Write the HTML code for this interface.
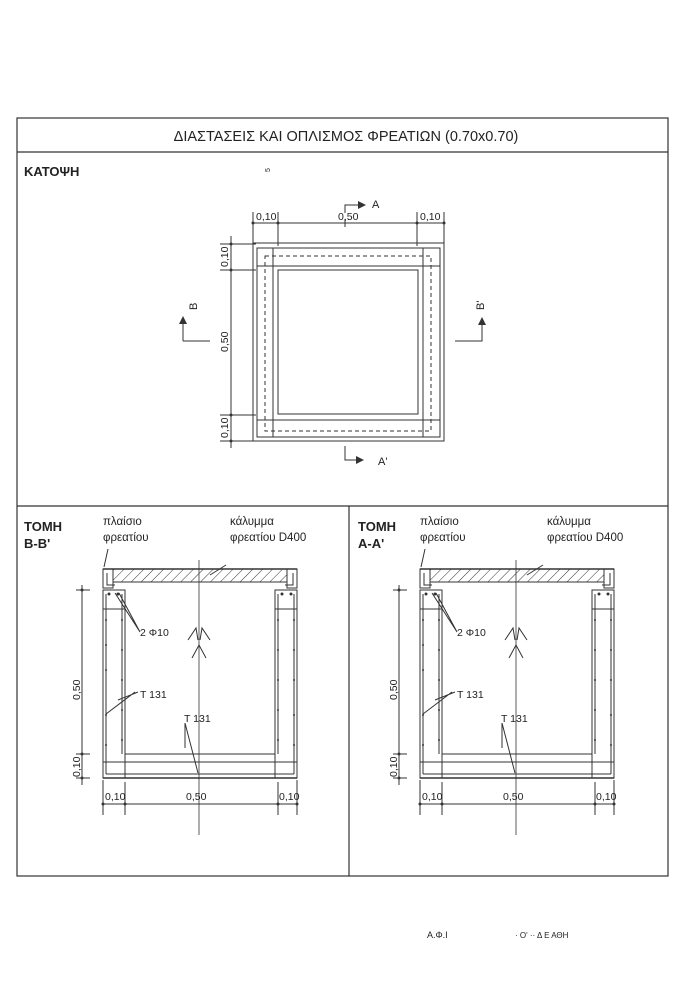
<!DOCTYPE html>
<html><head><meta charset="utf-8"><style>
html,body{margin:0;padding:0;background:#fff}
svg{display:block}
text{font-family:"Liberation Sans","DejaVu Sans",sans-serif;fill:#222}
</style></head><body>
<svg width="700" height="990" viewBox="0 0 700 990" xmlns="http://www.w3.org/2000/svg">
<defs>
<pattern id="h" width="7" height="7" patternUnits="userSpaceOnUse" patternTransform="rotate(45)">
<line x1="0" y1="0" x2="0" y2="7" stroke="#333" stroke-width="1"/></pattern>
<g id="sec" stroke="#333" fill="none" stroke-width="1">
 <!-- frame pieces -->
 <rect x="103" y="569" width="10" height="19"/>
 <rect x="287" y="569" width="10" height="19"/>
 <path d="M107 573 v12 h8 M293 573 v12 h-8"/>
 <!-- cover -->
 <rect x="113" y="569" width="174" height="13" fill="url(#h)"/>
 <line x1="103" y1="569" x2="297" y2="569" stroke-width="1.5"/>
 <!-- walls -->
 <rect x="103" y="590" width="22" height="188"/>
 <rect x="275" y="590" width="22" height="188"/>
 <path d="M106 594 v180 M122 594 v160 M278 594 v160 M294 594 v180"/>
 <line x1="103" y1="609" x2="125" y2="609"/><line x1="275" y1="609" x2="297" y2="609"/>
 <!-- base -->
 <path d="M125 754 H275 M103 762 H297 M106 774 H294" />
 <line x1="103" y1="778" x2="297" y2="778" stroke-width="1.5"/>
 <!-- rebar dots -->
 <g fill="#333" stroke="none">
  <circle cx="109" cy="594" r="1.5"/><circle cx="118" cy="594" r="1.5"/>
  <circle cx="282" cy="594" r="1.5"/><circle cx="291" cy="594" r="1.5"/>
  <circle cx="106" cy="620" r="1"/><circle cx="106" cy="645" r="1"/><circle cx="106" cy="670" r="1"/><circle cx="106" cy="715" r="1"/><circle cx="106" cy="745" r="1"/>
  <circle cx="122" cy="620" r="1"/><circle cx="122" cy="650" r="1"/><circle cx="122" cy="680" r="1"/><circle cx="122" cy="710" r="1"/><circle cx="122" cy="740" r="1"/>
  <circle cx="278" cy="620" r="1"/><circle cx="278" cy="650" r="1"/><circle cx="278" cy="680" r="1"/><circle cx="278" cy="710" r="1"/><circle cx="278" cy="740" r="1"/>
  <circle cx="294" cy="620" r="1"/><circle cx="294" cy="650" r="1"/><circle cx="294" cy="680" r="1"/><circle cx="294" cy="715" r="1"/><circle cx="294" cy="745" r="1"/>
 </g>
 <!-- center axis -->
 <line x1="199" y1="560" x2="199" y2="835" stroke-width="0.8"/>
 <path d="M188 640 L196 628 L198 640 M210 640 L202 628 L200 640 M192 658 L199 645 L206 658" stroke-width="1"/>
 <!-- leaders -->
 <path d="M108 549 L104 567 M226 565 L210 575 M115 593 L140 632 M119 593 L140 632 M118 700 L138 692 M106 714 L135 692 M185 723 V748 M185 723 L198 773"/>
 <!-- dims -->
 <path d="M82 585 V785 M76 590 H90 M76 754 H90 M76 778 H90"/>
 <path d="M103 780 V815 M125 782 V815 M278 782 V815 M297 780 V815 M103 804 H297"/>
 <g fill="#333" stroke="none"><circle cx="82" cy="590" r="1.5"/><circle cx="82" cy="754" r="1.5"/><circle cx="82" cy="778" r="1.5"/>
 <circle cx="103" cy="804" r="1.5"/><circle cx="125" cy="804" r="1.5"/><circle cx="278" cy="804" r="1.5"/><circle cx="297" cy="804" r="1.5"/></g>
</g>
</defs>

<!-- outer frame -->
<g stroke="#333" fill="none" stroke-width="1.2">
<rect x="17" y="118" width="651" height="758"/>
<line x1="17" y1="152" x2="668" y2="152"/>
<line x1="17" y1="506" x2="668" y2="506"/>
<line x1="349" y1="506" x2="349" y2="876"/>
</g>
<text x="346" y="141" font-size="14.5" text-anchor="middle">ΔΙΑΣΤΑΣΕΙΣ ΚΑΙ ΟΠΛΙΣΜΟΣ ΦΡΕΑΤΙΩΝ (0.70x0.70)</text>
<text x="24" y="176" font-size="13" font-weight="bold">ΚΑΤΟΨΗ</text>

<!-- plan -->
<g stroke="#333" fill="none" stroke-width="1">
<rect x="253" y="243" width="191" height="198"/>
<rect x="257" y="248" width="183" height="189"/>
<rect x="278" y="270" width="140" height="144"/>
<path d="M257 266 H440 M257 420 H440 M273 248 V437 M423 248 V437"/>
<rect x="265" y="256" width="166" height="175" stroke-dasharray="4,3"/>
<path d="M253 212 V248 M278 212 V246 M417 212 V246 M444 212 V248 M253 223 H444 M345 219 V227"/>
<path d="M220 244 H256 M220 270 H256 M220 415 H256 M220 441 H256 M231 236 V448"/>
<path d="M345 213 V205 H360 M345 446 V460 H358 M183 341 V322 M183 341 H210 M455 341 H482 V323"/>
</g>
<g fill="#333"><polygon points="358,201 366,205 358,209"/><polygon points="356,456 364,460 356,464"/>
<polygon points="179,324 183,316 187,324"/><polygon points="478,325 482,317 486,325"/>
<circle cx="253" cy="223" r="1.5"/><circle cx="278" cy="223" r="1.5"/><circle cx="417" cy="223" r="1.5"/><circle cx="444" cy="223" r="1.5"/>
<circle cx="231" cy="244" r="1.5"/><circle cx="231" cy="270" r="1.5"/><circle cx="231" cy="415" r="1.5"/><circle cx="231" cy="441" r="1.5"/></g>
<g font-size="10.5">
<text x="256" y="220">0,10</text><text x="338" y="220">0,50</text><text x="420" y="220">0,10</text>
<text x="372" y="208" font-size="11">A</text><text x="378" y="465" font-size="11">A'</text>
<text transform="translate(228,267) rotate(-90)">0,10</text>
<text transform="translate(228,352) rotate(-90)">0,50</text>
<text transform="translate(228,438) rotate(-90)">0,10</text>
<text transform="translate(197,310) rotate(-90)" font-size="11">B</text>
<text transform="translate(484,310) rotate(-90)" font-size="11">B'</text>
<text transform="translate(270,172) rotate(-90)" font-size="7">5</text>
</g>

<!-- sections -->
<use href="#sec"/>
<use href="#sec" transform="translate(317,0)"/>
<g font-size="11.5">
<text x="24" y="531" font-weight="bold" font-size="13">ΤΟΜΗ</text><text x="24" y="548" font-weight="bold" font-size="13">Β-Β'</text>
<text x="103" y="525">πλαίσιο</text><text x="103" y="541">φρεατίου</text>
<text x="230" y="525">κάλυμμα</text><text x="230" y="541">φρεατίου D400</text>
<text x="140" y="636" font-size="10.5">2 Φ10</text>
<text x="140" y="698" font-size="10.5">T 131</text><text x="184" y="722" font-size="10.5">T 131</text>
<text x="358" y="531" font-weight="bold" font-size="13">ΤΟΜΗ</text><text x="358" y="548" font-weight="bold" font-size="13">Α-Α'</text>
<text x="420" y="525">πλαίσιο</text><text x="420" y="541">φρεατίου</text>
<text x="547" y="525">κάλυμμα</text><text x="547" y="541">φρεατίου D400</text>
<text x="457" y="636" font-size="10.5">2 Φ10</text>
<text x="457" y="698" font-size="10.5">T 131</text><text x="501" y="722" font-size="10.5">T 131</text>
</g>
<g font-size="10.5">
<text transform="translate(80,700) rotate(-90)">0,50</text>
<text transform="translate(80,777) rotate(-90)">0,10</text>
<text transform="translate(397,700) rotate(-90)">0,50</text>
<text transform="translate(397,777) rotate(-90)">0,10</text>
<text x="105" y="800">0,10</text><text x="186" y="800">0,50</text><text x="279" y="800">0,10</text>
<text x="422" y="800">0,10</text><text x="503" y="800">0,50</text><text x="596" y="800">0,10</text>
</g>
<text x="427" y="938" font-size="9" fill="#aaa">Α.Φ.Ι</text>
<text x="515" y="938" font-size="8" fill="#aaa">· Ο' ·· Δ Ε ΑΘΗ</text>
</svg>
</body></html>
